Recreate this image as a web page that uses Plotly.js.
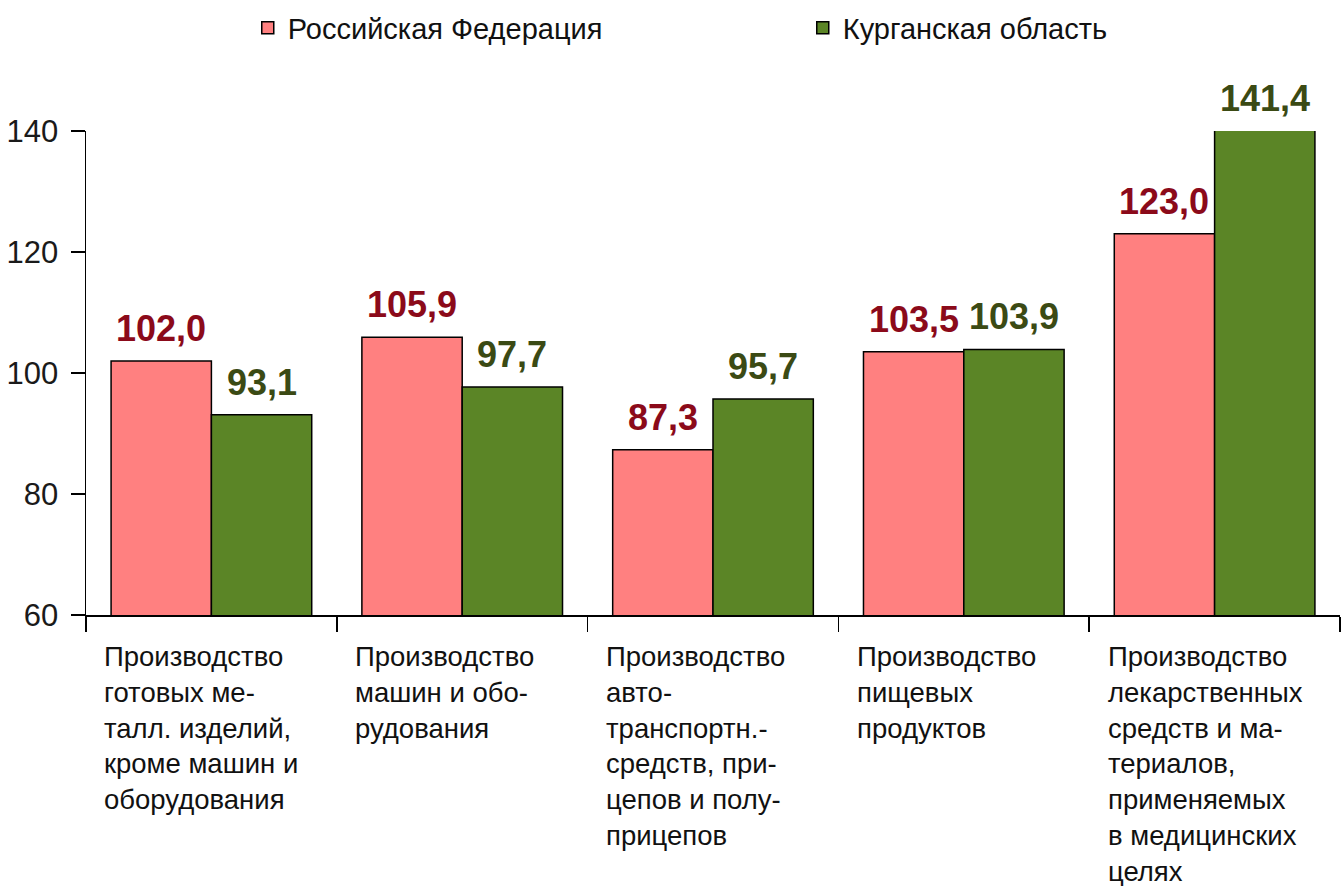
<!DOCTYPE html>
<html>
<head>
<meta charset="utf-8">
<script src="https://cdn.plot.ly/plotly-3.0.1.min.js"></script>
<style>
  html, body { margin: 0; padding: 0; background: #ffffff; }
  #chart { width: 1343px; height: 886px; }
</style>
</head>
<body>
<div id="chart"></div>
<script>
// ---- data ----
const categories = [
  'Производство<br>готовых ме-<br>талл. изделий,<br>кроме машин и<br>оборудования',
  'Производство<br>машин и обо-<br>рудования',
  'Производство<br>авто-<br>транспортн.-<br>средств, при-<br>цепов и полу-<br>прицепов',
  'Производство<br>пищевых<br>продуктов',
  'Производство<br>лекарственных<br>средств и ма-<br>териалов,<br>применяемых<br>в медицинских<br>целях'
];
const seriesNames = ['Российская Федерация', 'Курганская область'];
const rfValues = [102.0, 105.9, 87.3, 103.5, 123.0];
const kurganValues = [93.1, 97.7, 95.7, 103.9, 141.4];
const yTickVals = [60, 80, 100, 120, 140];
const yRange = [60, 140];

// ---- styles ----
const FONT = '"Liberation Sans", Arial, sans-serif';
const barColors = ['#ff8080', '#5b8526'];
const labelColors = ['#8b0a1a', '#3b4a14'];
const seriesValues = [rfValues, kurganValues];
const bargap = 0.2;
const halfBar = (1 - bargap) / 4;

const xIdx = categories.map((c, i) => i);

const traces = seriesValues.map((vals, s) => ({
  type: 'bar',
  name: seriesNames[s],
  x: xIdx,
  y: vals,
  marker: { color: barColors[s], line: { color: '#000000', width: 1.5 } },
  hoverinfo: 'skip'
}));

const fmt = v => v.toFixed(1).replace('.', ',');

const annotations = [];
seriesValues.forEach((vals, s) => {
  vals.forEach((v, i) => {
    annotations.push({
      xref: 'x', yref: 'y',
      x: i + (s === 0 ? -halfBar : halfBar),
      y: Math.min(v, yRange[1]),
      text: fmt(v),
      showarrow: false,
      xanchor: 'center', yanchor: 'bottom',
      yshift: 10,
      font: { family: FONT, size: 36, color: labelColors[s], weight: 'bold' }
    });
  });
});
categories.forEach((c, i) => {
  annotations.push({
    xref: 'x', yref: 'paper',
    x: i - 0.435,
    y: 0,
    text: c,
    showarrow: false,
    xanchor: 'left', yanchor: 'top', align: 'left',
    yshift: -24,
    font: { family: FONT, size: 27.5, color: '#111111' }
  });
});

const layout = {
  width: 1343,
  height: 886,
  margin: { l: 86, r: 3, t: 131, b: 271, autoexpand: false },
  paper_bgcolor: '#ffffff',
  plot_bgcolor: '#ffffff',
  barmode: 'group',
  bargap: bargap,
  bargroupgap: 0,
  showlegend: true,
  legend: {
    orientation: 'h',
    x: 0.129, xanchor: 'left',
    y: 1.213, yanchor: 'middle',
    entrywidth: 510, entrywidthmode: 'pixels',
    font: { family: FONT, size: 29, color: '#111111' },
    bgcolor: 'rgba(0,0,0,0)'
  },
  xaxis: {
    type: 'linear',
    range: [-0.5, categories.length - 0.5],
    tickvals: categories.map((c, i) => i - 0.5).concat([categories.length - 0.5]),
    showticklabels: false,
    ticks: 'outside',
    ticklen: 15,
    tickcolor: '#000000',
    tickwidth: 1.5,
    showline: true,
    linecolor: '#000000',
    linewidth: 1.5,
    showgrid: false,
    zeroline: false,
    fixedrange: true
  },
  yaxis: {
    range: yRange,
    tickvals: yTickVals,
    ticktext: yTickVals.map(String),
    ticks: 'outside',
    ticklen: 14,
    tickcolor: '#000000',
    tickwidth: 1.5,
    showline: true,
    linecolor: '#000000',
    linewidth: 1.5,
    showgrid: false,
    zeroline: false,
    ticklabelstandoff: 6,
    tickfont: { family: FONT, size: 31, color: '#1a1a1a' },
    fixedrange: true
  },
  annotations: annotations
};

Plotly.newPlot('chart', traces, layout, { displayModeBar: false, staticPlot: true });
</script>
</body>
</html>
